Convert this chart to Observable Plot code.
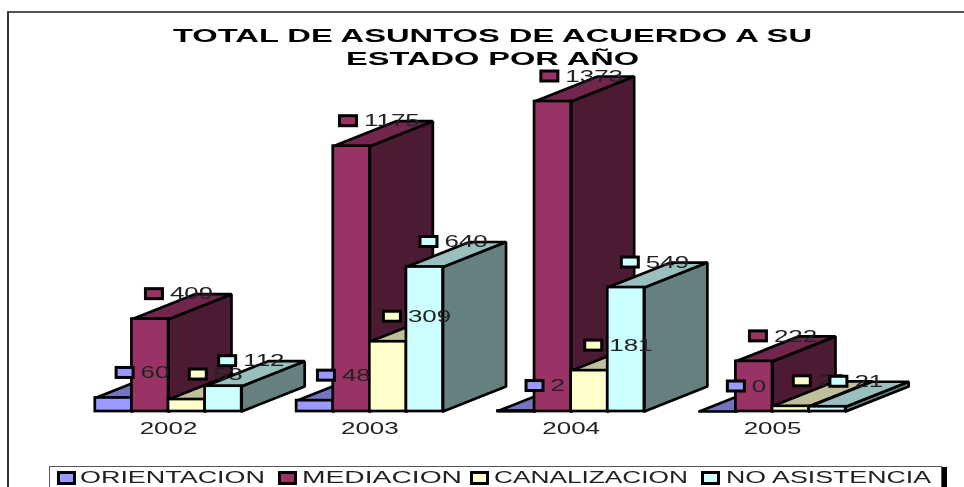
<!DOCTYPE html>
<html lang="es">
<head>
<meta charset="utf-8">
<script src="https://cdn.jsdelivr.net/npm/d3@7"></script>
<script src="https://cdn.jsdelivr.net/npm/@observablehq/plot@0.6"></script>
<style>
  html, body { margin: 0; padding: 0; background: #fff; }
  #page { position: relative; width: 964px; height: 487px; overflow: hidden; font-family: "Liberation Sans", Arial, sans-serif; filter: blur(0.4px); }
  #frameTop { position: absolute; left: 7px; right: 0; top: 11px; height: 0; border-top: 2px solid #555; }
  #frameLeft { position: absolute; left: 7px; top: 12px; bottom: 0; width: 0; border-left: 2px solid #333; }
  #chart { position: absolute; left: 0; top: 0; }
  .title { position: absolute; left: 0; font-weight: bold; font-size: 18px; line-height: 20px; color: #000; white-space: nowrap; transform-origin: left center; }
  #legend { position: absolute; left: 49px; top: 466px; width: 891px; height: 20px; border: 1px solid #555; background: #fff; box-shadow: 5px 1px 0 #000; }
  .key { position: absolute; top: 4px; width: 13px; height: 8px; border: 3px solid #000; }
  .keyLabel { position: absolute; top: 1px; font-size: 16.5px; line-height: 18px; color: #222; white-space: nowrap; transform-origin: left center; }
</style>
</head>
<body>
<div id="page">
  <div id="frameTop"></div>
  <div id="frameLeft"></div>
  <div id="chart"></div>
  <div id="legend"></div>
</div>
<script>
const years = ["2002", "2003", "2004", "2005"];
const orientacion = [60, 48, 2, 0];
const mediacion = [409, 1175, 1373, 222];
const canalizacion = [53, 309, 181, 23];
const noAsistencia = [112, 640, 549, 21];
const seriesNames = ["ORIENTACION", "MEDIACION", "CANALIZACION", "NO ASISTENCIA"];
const seriesValues = [orientacion, mediacion, canalizacion, noAsistencia];
const frontColors = ["#9999ff", "#993366", "#ffffcc", "#ccffff"];
const topColors = ["#7373bf", "#73264d", "#bfbf99", "#99bfbf"];
const sideColors = ["#4d4d80", "#4d1a33", "#808066", "#668080"];
const titleLines = ["TOTAL DE ASUNTOS DE ACUERDO A SU", "ESTADO POR AÑO"];

// Projection of the pseudo-3D chart, in scale units
const pxX = 3 / 604, pxY = 1373 / 310;
const barW = 36.6 * pxX, depthX = 63 * pxX, depthY = 25 * pxY;

const bars = seriesNames.flatMap((name, s) =>
  years.map((year, g) => ({s, g, value: seriesValues[s][g], x1: g + (s - 2) * barW, x2: g + (s - 1) * barW}))
).sort((a, b) => a.g - b.g || a.s - b.s);

const face = (pts) => pts.map(([x, y]) => ({x, y}));
const barMarks = bars.flatMap((b) => {
  const style = {x: "x", y: "y", stroke: "#000", strokeWidth: 2.7, strokeLinejoin: "miter"};
  const side = face([[b.x2, 0], [b.x2 + depthX, depthY], [b.x2 + depthX, b.value + depthY], [b.x2, b.value], [b.x2, 0]]);
  const top = face([[b.x1, b.value], [b.x2, b.value], [b.x2 + depthX, b.value + depthY], [b.x1 + depthX, b.value + depthY], [b.x1, b.value]]);
  return [
    Plot.line(side, {...style, fill: sideColors[b.s]}),
    Plot.line(top, {...style, fill: topColors[b.s]}),
    Plot.rect([b], {x1: "x1", x2: "x2", y1: 0, y2: "value", fill: frontColors[b.s], stroke: "#000", strokeWidth: 2.7})
  ];
});

// Data labels: a colour key followed by the value, centred over the top face
const labels = seriesNames.flatMap((name, s) => years.map((year, g) => {
  const v = seriesValues[s][g];
  const w = (25 + 14.5 * String(v).length) * pxX;
  const cx = g + (s - 1.5) * barW + 30 * pxX;
  return {s, value: v, left: cx - w / 2, y: v + depthY};
}));
const labelMarks = labels.flatMap((d) => [
  Plot.rect([d], {
    x1: (e) => e.left, x2: (e) => e.left + 17 * pxX,
    y1: (e) => e.y - 5 * pxY, y2: (e) => e.y + 5 * pxY,
    fill: frontColors[d.s], stroke: "#000", strokeWidth: 3
  }),
  Plot.text([d], {
    x: (e) => e.left + 24 * pxX, y: "y", text: (e) => String(e.value),
    textAnchor: "start", fontSize: 16, fill: "#222"
  })
]);

const svg = Plot.plot({
  width: 964, height: 487,
  marginTop: 0, marginRight: 0, marginBottom: 76, marginLeft: 0,
  style: {fontFamily: '"Liberation Sans", Arial, sans-serif', background: "transparent", overflow: "visible"},
  x: {domain: [0, 3], range: [168, 772], axis: null},
  y: {domain: [0, 1373], range: [411, 101], axis: null},
  marks: [
    ...barMarks,
    Plot.axisX({ticks: [0, 1, 2, 3], tickFormat: (i) => years[i], tickSize: 0, tickPadding: 11, fontSize: 16, fill: "#222", anchor: "bottom"}),
    ...labelMarks
  ]
});
document.getElementById("chart").append(svg);

// The reference's lettering is stretched horizontally
svg.querySelectorAll("text").forEach((t) => {
  const len = t.getComputedTextLength();
  t.setAttribute("textLength", len * 1.62);
  t.setAttribute("lengthAdjust", "spacingAndGlyphs");
});

const page = document.getElementById("page");
const fitText = (el, left, targetWidth) => {
  el.style.left = left + "px";
  el.style.transform = `scaleX(${targetWidth / el.getBoundingClientRect().width})`;
};
[[172.5, 639, 25.5], [346, 293, 48.5]].forEach(([left, w, top], i) => {
  const el = document.createElement("div");
  el.className = "title";
  el.textContent = titleLines[i];
  el.style.top = top + "px";
  page.append(el);
  fitText(el, left, w);
});

const legend = document.getElementById("legend");
[[7, 30, 185], [228, 252, 160], [420, 444, 194], [651, 676, 205]].forEach(([keyX, textX, w], s) => {
  const key = document.createElement("div");
  key.className = "key";
  key.style.left = keyX + "px";
  key.style.background = frontColors[s];
  legend.append(key);
  const label = document.createElement("div");
  label.className = "keyLabel";
  label.textContent = seriesNames[s];
  legend.append(label);
  fitText(label, textX, w);
});
</script>
</body>
</html>
